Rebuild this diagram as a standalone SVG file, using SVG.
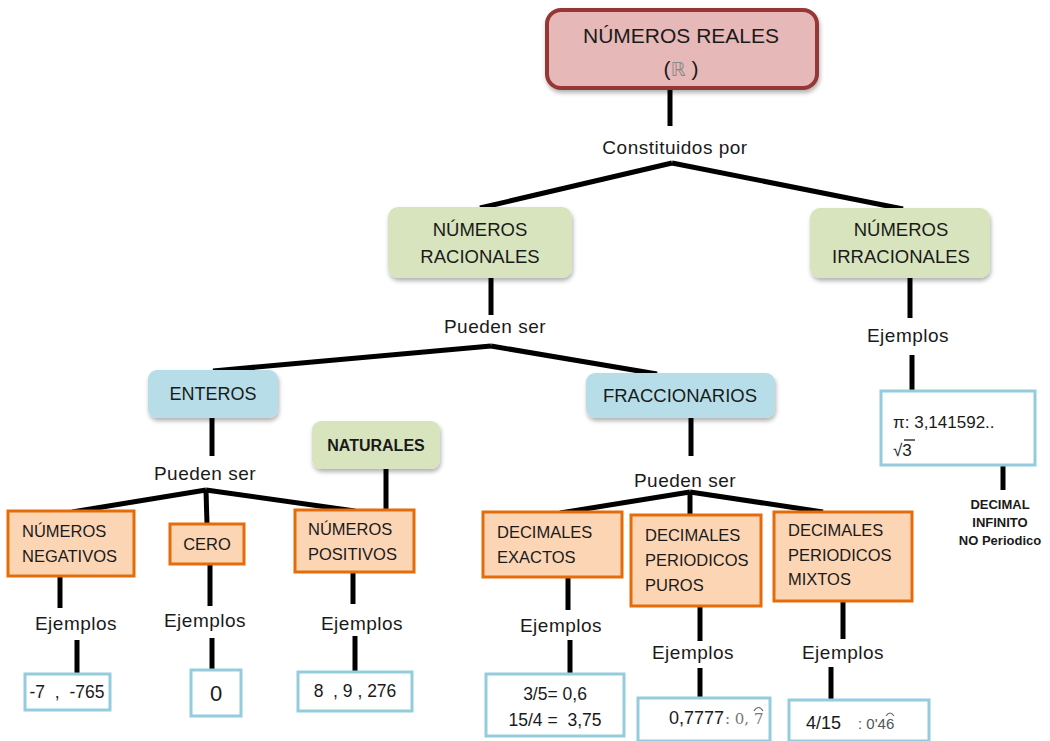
<svg xmlns="http://www.w3.org/2000/svg" width="1050" height="741" viewBox="0 0 1050 741">
<defs>
<filter id="sh" x="-10%" y="-10%" width="130%" height="140%">
<feDropShadow dx="1" dy="3" stdDeviation="2" flood-color="#000" flood-opacity="0.3"/>
</filter>
<style>
text{font-family:"Liberation Sans",Arial,sans-serif;fill:#1a1a1a;white-space:pre}
.lbl{font-size:19px;letter-spacing:0.5px;text-anchor:middle}
.bx{font-size:18.5px;text-anchor:middle}
.ob{font-size:16.5px}
.ex{font-size:17.5px;text-anchor:middle}
.conn line{stroke:#000;stroke-width:5}
.red{fill:#e6b8b7;stroke:#953735;stroke-width:4}
.green{fill:#d7e4bd}
.blue{fill:#b7dee8}
.orange{fill:#fcd5b5;stroke:#e46c0a;stroke-width:3}
.exb{fill:#fff;stroke:#93cddd;stroke-width:3}
.bold{font-weight:bold;text-anchor:middle}
.arc{fill:none;stroke:#666;stroke-width:1.1}
</style>
</defs>
<rect width="1050" height="741" fill="#fff"/>

<g class="conn" id="connectors">
<line x1="670" y1="88" x2="670" y2="126"/>
<line x1="672" y1="163" x2="480" y2="208"/>
<line x1="672" y1="163" x2="903" y2="209"/>
<line x1="491" y1="278" x2="491" y2="315"/>
<line x1="491" y1="346" x2="213" y2="371"/>
<line x1="491" y1="346" x2="657" y2="374"/>
<line x1="910" y1="278" x2="910" y2="318"/>
<line x1="912" y1="355" x2="912" y2="392"/>
<line x1="1003" y1="466" x2="1003" y2="490"/>
<line x1="212" y1="418" x2="212" y2="456"/>
<line x1="206" y1="490" x2="72" y2="512"/>
<line x1="206" y1="490" x2="207" y2="524"/>
<line x1="206" y1="490" x2="355" y2="511"/>
<line x1="386" y1="469" x2="386" y2="510"/>
<line x1="60" y1="577" x2="60" y2="608"/>
<line x1="77" y1="640" x2="77" y2="673"/>
<line x1="210" y1="564" x2="210" y2="606"/>
<line x1="212" y1="638" x2="212" y2="669"/>
<line x1="353" y1="572" x2="353" y2="604"/>
<line x1="355" y1="636" x2="355" y2="672"/>
<line x1="691" y1="418" x2="691" y2="456"/>
<line x1="690" y1="492" x2="560" y2="513"/>
<line x1="690" y1="492" x2="690" y2="516"/>
<line x1="690" y1="492" x2="823" y2="512"/>
<line x1="568" y1="577" x2="568" y2="610"/>
<line x1="570" y1="640" x2="570" y2="673"/>
<line x1="700" y1="606" x2="700" y2="641"/>
<line x1="700" y1="668" x2="700" y2="698"/>
<line x1="843" y1="601" x2="843" y2="639"/>
<line x1="831" y1="667" x2="831" y2="700"/>
</g>

<g id="n-reales">
<rect class="red" x="547" y="10" width="270" height="78" rx="14" filter="url(#sh)"/>
<text x="681" y="43" style="font-size:21px;text-anchor:middle">NÚMEROS REALES</text>
<text x="681" y="76" style="font-size:21px;text-anchor:middle">(<tspan style="font-family:'DejaVu Sans',sans-serif;fill:#8a8a8a;font-size:19px">ℝ</tspan> )</text>
</g>
<g id="l-constituidos"><text class="lbl" x="675" y="154">Constituidos por</text></g>

<g id="n-racionales">
<rect class="green" x="388" y="207" width="184" height="71" rx="10" filter="url(#sh)"/>
<text class="bx" x="480" y="236">NÚMEROS</text>
<text class="bx" x="480" y="263">RACIONALES</text>
</g>
<g id="n-irracionales">
<rect class="green" x="810" y="208" width="180" height="70" rx="10" filter="url(#sh)"/>
<text class="bx" x="901" y="236">NÚMEROS</text>
<text class="bx" x="901" y="263">IRRACIONALES</text>
</g>
<g id="l-pueden1"><text class="lbl" x="495" y="333">Pueden ser</text></g>
<g id="l-ejemplos-irr"><text class="lbl" x="908" y="342">Ejemplos</text></g>

<g id="n-irr-ej">
<rect class="exb" x="881" y="391" width="154" height="74"/>
<text x="893" y="428" style="font-size:17px">π: 3,141592..</text>
<text x="893" y="456" style="font-size:17px">√3</text>
<line x1="904" y1="440" x2="915" y2="440" stroke="#1a1a1a" stroke-width="1.3"/>
</g>
<g id="l-decimal-infinito">
<text class="bold" x="1000" y="509" style="font-size:13px">DECIMAL</text>
<text class="bold" x="1000" y="527" style="font-size:13px">INFINITO</text>
<text class="bold" x="1000" y="545" style="font-size:13px">NO Periodico</text>
</g>

<g id="n-enteros">
<rect class="blue" x="148" y="370" width="130" height="48" rx="9" filter="url(#sh)"/>
<text class="bx" x="213" y="400" style="font-size:18px">ENTEROS</text>
</g>
<g id="n-fraccionarios">
<rect class="blue" x="586" y="373" width="189" height="45" rx="9" filter="url(#sh)"/>
<text class="bx" x="680" y="402">FRACCIONARIOS</text>
</g>
<g id="l-pueden2"><text class="lbl" x="205" y="480">Pueden ser</text></g>
<g id="l-pueden3"><text class="lbl" x="685" y="487">Pueden ser</text></g>

<g id="n-naturales">
<rect class="green" x="312" y="421" width="128" height="48" rx="9" filter="url(#sh)"/>
<text class="bold" x="376" y="451" style="font-size:16px">NATURALES</text>
</g>

<g id="n-negativos">
<rect class="orange" x="8" y="511" width="126" height="65"/>
<text class="ob" x="22" y="537">NÚMEROS</text>
<text class="ob" x="22" y="562">NEGATIVOS</text>
</g>
<g id="n-cero">
<rect class="orange" x="170" y="524" width="74" height="40"/>
<text class="ob" x="207" y="550" style="text-anchor:middle">CERO</text>
</g>
<g id="n-positivos">
<rect class="orange" x="295" y="510" width="119" height="62"/>
<text class="ob" x="308" y="535">NÚMEROS</text>
<text class="ob" x="308" y="560">POSITIVOS</text>
</g>
<g id="n-exactos">
<rect class="orange" x="483" y="512" width="139" height="65"/>
<text class="ob" x="497" y="538">DECIMALES</text>
<text class="ob" x="497" y="563">EXACTOS</text>
</g>
<g id="n-puros">
<rect class="orange" x="631" y="515" width="130" height="91"/>
<text class="ob" x="645" y="541">DECIMALES</text>
<text class="ob" x="645" y="566">PERIODICOS</text>
<text class="ob" x="645" y="591">PUROS</text>
</g>
<g id="n-mixtos">
<rect class="orange" x="774" y="512" width="138" height="89"/>
<text class="ob" x="788" y="536">DECIMALES</text>
<text class="ob" x="788" y="561">PERIODICOS</text>
<text class="ob" x="788" y="585">MIXTOS</text>
</g>

<g id="l-ejemplos">
<text class="lbl" x="76" y="630">Ejemplos</text>
<text class="lbl" x="205" y="627">Ejemplos</text>
<text class="lbl" x="362" y="630">Ejemplos</text>
<text class="lbl" x="561" y="632">Ejemplos</text>
<text class="lbl" x="693" y="659">Ejemplos</text>
<text class="lbl" x="843" y="659">Ejemplos</text>
</g>

<g id="n-ej-neg">
<rect class="exb" x="25" y="674" width="85" height="36"/>
<text class="ex" x="67" y="698">-7  ,  -765</text>
</g>
<g id="n-ej-cero">
<rect class="exb" x="191" y="670" width="50" height="46"/>
<text class="ex" x="216" y="701" style="font-size:22px">0</text>
</g>
<g id="n-ej-pos">
<rect class="exb" x="298" y="672" width="114" height="39"/>
<text class="ex" x="355" y="697">8  , 9 , 276</text>
</g>
<g id="n-ej-exactos">
<rect class="exb" x="486" y="674" width="138" height="62"/>
<text class="ex" x="555" y="700">3/5= 0,6</text>
<text class="ex" x="555" y="726">15/4 =  3,75</text>
</g>
<g id="n-ej-puros">
<rect class="exb" x="638" y="698" width="132" height="43"/>
<text x="669" y="724" style="font-size:18px">0,7777</text>
<text x="725" y="724" style="font-family:'DejaVu Serif','Liberation Serif',serif;fill:#777;font-size:15px">: 0, 7</text>
<path class="arc" d="M754,711 Q758.5,704 763,711"/>
</g>
<g id="n-ej-mixtos">
<rect class="exb" x="789" y="700" width="140" height="41"/>
<text x="806" y="729" style="font-size:18px">4/15</text>
<text x="858" y="729" style="font-size:15px;fill:#555">: 0'46</text>
<path class="arc" d="M886,716 Q890,710 894,716"/>
</g>
</svg>
